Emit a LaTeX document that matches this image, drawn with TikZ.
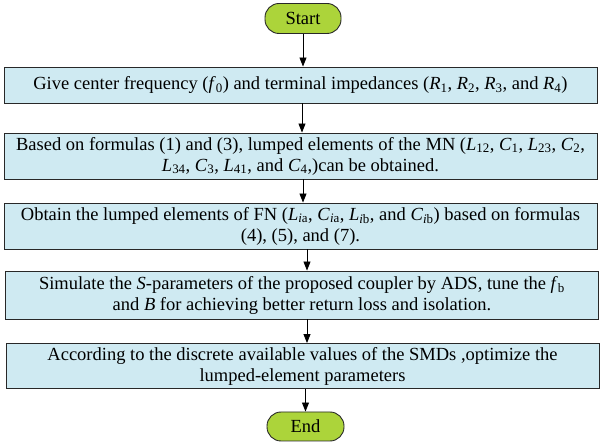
\documentclass[tikz,border=0pt]{standalone}
\usepackage{fontspec}
\setmainfont{Liberation Serif}
\usetikzlibrary{arrows.meta}
\definecolor{termgreen}{RGB}{172,212,58}
\definecolor{boxblue}{RGB}{207,234,242}
\definecolor{boxborder}{RGB}{40,40,40}
\newcommand{\lsb}[1]{\textsubscript{#1}}
\newcommand{\iv}[1]{\textit{#1}}
\begin{document}
\begin{tikzpicture}[x=1pt,y=-1pt,
  terminal/.style={draw=boxborder, line width=0.9pt, fill=termgreen, rounded corners=14pt,
    minimum width=76pt, minimum height=30pt, inner sep=0pt, font=\fontsize{18.5}{21}\selectfont},
  stepbox/.style={draw=boxborder, line width=0.9pt, fill=boxblue, minimum width=593pt,
    inner sep=0pt, align=center, font=\fontsize{18.5}{21}\selectfont},
  arr/.style={-{Triangle[length=9pt,width=7pt]}, line width=0.9pt, draw=black}]
\useasboundingbox (0,0) rectangle (600,443);
\node[terminal] (start) at (303,18.5) {Start};
\node[stepbox, minimum height=36pt] (b1) at (300.5,85)
  {Give center frequency (\iv{f}\lsb{0}) and terminal impedances (\iv{R}\lsb{1}, \iv{R}\lsb{2}, \iv{R}\lsb{3}, and \iv{R}\lsb{4})};
\node[stepbox, minimum height=46pt] (b2) at (300.5,156)
  {Based on formulas (1) and (3), lumped elements of the MN (\iv{L}\lsb{12}, \iv{C}\lsb{1}, \iv{L}\lsb{23}, \iv{C}\lsb{2},\\
   \iv{L}\lsb{34}, \iv{C}\lsb{3}, \iv{L}\lsb{41}, and \iv{C}\lsb{4},)can be obtained.};
\node[stepbox, minimum height=46pt] (b3) at (300.5,226)
  {Obtain the lumped elements of FN (\iv{L}\lsb{\iv{i}a}, \iv{C}\lsb{\iv{i}a}, \iv{L}\lsb{\iv{i}b}, and \iv{C}\lsb{\iv{i}b}) based on formulas\\
   (4), (5), and (7).};
\node[stepbox, minimum height=48pt] (b4) at (302,295)
  {Simulate the \iv{S}-parameters of the proposed coupler by ADS, tune the \iv{f}\lsb{b}\\
   and \iv{B} for achieving better return loss and isolation.};
\node[stepbox, minimum height=45pt] (b5) at (302.5,366)
  {According to the discrete available values of the SMDs ,optimize the\\
   lumped-element parameters};
\node[terminal, minimum width=77pt, minimum height=29pt] (end) at (305.5,426.5) {End};
\draw[arr] (start.south) -- (start.south |- b1.north);
\draw[arr] (b1.south -| 302,0) -- (b2.north -| 302,0);
\draw[arr] (b2.south -| 303,0) -- (b3.north -| 303,0);
\draw[arr] (b3.south -| 307,0) -- (b4.north -| 307,0);
\draw[arr] (b4.south -| 307,0) -- (b5.north -| 307,0);
\draw[arr] (b5.south -| end.north) -- (end.north);
\end{tikzpicture}
\end{document}
